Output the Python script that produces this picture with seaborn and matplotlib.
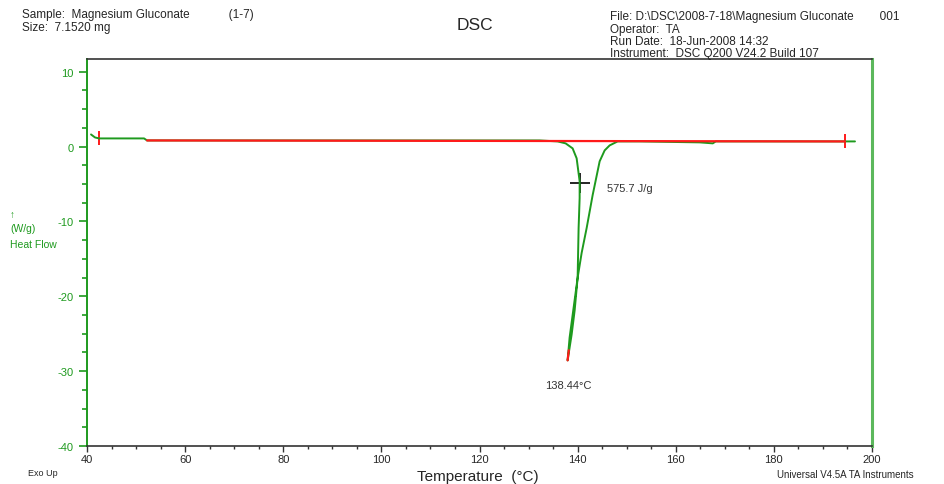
import matplotlib
matplotlib.use("Agg")
import matplotlib.pyplot as plt
from matplotlib.ticker import MultipleLocator
import seaborn as sns
import pandas as pd

# ---- data ----
temp_c = [40.82, 41.63, 42.45, 51.63, 52.24, 83.27, 113.88, 132.24, 135.92, 137.55,
          138.98, 139.80, 140.41, 140.41, 140.20, 140.00, 139.39, 138.78, 137.96,
          138.37, 140.00, 140.82, 141.84, 143.06, 144.49, 145.51, 146.53, 148.16,
          152.65, 164.90, 167.55, 168.16, 185.31, 196.53]
heat_flow = [1.62, 1.22, 1.09, 1.09, 0.82, 0.82, 0.82, 0.82, 0.69, 0.43,
             -0.24, -1.57, -4.63, -6.89, -10.88, -17.53, -21.91, -25.11, -28.56,
             -25.50, -17.53, -14.20, -10.88, -6.49, -1.97, -0.51, 0.16, 0.69,
             0.69, 0.56, 0.43, 0.69, 0.69, 0.69]
baseline_t = [52.24, 194.5]
baseline_hf = [0.82, 0.69]
limit_marks_t = [42.45, 194.5]
limit_marks_hf = [1.09, 0.69]
peak_mark_t = [137.96, 138.2]
peak_mark_hf = [-28.56, -27.2]
cross_t = [140.4]
cross_hf = [-4.9]
x_ticks = [40, 60, 80, 100, 120, 140, 160, 180, 200]
y_ticks = [10, 0, -10, -20, -30, -40]
enthalpy_label = "575.7 J/g"
peak_label = "138.44°C"

sns.set_style("white")
plt.rcParams['font.family'] = ['Liberation Sans', 'DejaVu Sans']

GREEN = "#1e9a1e"
RED = "#ff1a1a"

fig = plt.figure(figsize=(9.45, 4.85), dpi=100)
ax = fig.add_axes([87/945, 1-447/485, 785/945, 387/485])

df = pd.DataFrame({"t": temp_c, "hf": heat_flow})
sns.lineplot(data=df, x="t", y="hf", sort=False, estimator=None, color=GREEN, lw=1.4, ax=ax)
sns.lineplot(x=baseline_t, y=baseline_hf, sort=False, estimator=None, color=RED, lw=1.6, ax=ax)
sns.lineplot(x=peak_mark_t, y=peak_mark_hf, sort=False, estimator=None, color=RED, lw=1.6, ax=ax)
sns.scatterplot(x=limit_marks_t, y=limit_marks_hf, marker="|", s=90, color=RED, linewidth=1.4, ax=ax)
sns.scatterplot(x=cross_t, y=cross_hf, marker="+", s=200, color="black", linewidth=1.2, ax=ax)

ax.set_xlim(40, 200)
ax.set_ylim(-39.7, 11.7)
ax.set_xticks(x_ticks)
ax.set_yticks(y_ticks)
ax.set_xticklabels([str(v) for v in x_ticks], fontsize=8)
ax.set_yticklabels([str(v) for v in y_ticks], fontsize=8, color=GREEN)
ax.xaxis.set_minor_locator(MultipleLocator(5))
ax.yaxis.set_minor_locator(MultipleLocator(2.5))
ax.tick_params(axis="x", which="major", direction="out", length=4, width=1, color="#333333", pad=2, bottom=True)
ax.tick_params(axis="x", which="minor", direction="out", length=2.5, width=1, color="#333333", bottom=True)
ax.tick_params(axis="y", which="major", direction="out", length=6, width=1.2, color=GREEN, left=True)
ax.tick_params(axis="y", which="minor", direction="out", length=3.5, width=1.2, color=GREEN, left=True)
ax.set_xlabel("")
ax.set_ylabel("")
for s in ["top", "bottom"]:
    ax.spines[s].set_color("#333333")
    ax.spines[s].set_linewidth(1.2)
ax.spines["left"].set_color(GREEN)
ax.spines["left"].set_linewidth(1.4)
ax.spines["right"].set_color("#5cb85c")
ax.spines["right"].set_linewidth(2.2)

ax.text(145.9, -5.6, enthalpy_label, fontsize=8, color="#333333", ha="left", va="center")
ax.text(138.2, -31.8, peak_label, fontsize=8, color="#333333", ha="center", va="center")

# header texts
fs = 8.5
fig.text(22/945, 1-15/485, "Sample:  Magnesium Gluconate            (1-7)", fontsize=fs, va="center")
fig.text(22/945, 1-28/485, "Size:  7.1520 mg", fontsize=fs, va="center")
fig.text(475/945, 1-25/485, "DSC", fontsize=12.5, ha="center", va="center")
fig.text(610/945, 1-17/485, "File: D:\\DSC\\2008-7-18\\Magnesium Gluconate        001", fontsize=fs, va="center")
fig.text(610/945, 1-30/485, "Operator:  TA", fontsize=fs, va="center")
fig.text(610/945, 1-42/485, "Run Date:  18-Jun-2008 14:32", fontsize=fs, va="center")
fig.text(610/945, 1-54/485, "Instrument:  DSC Q200 V24.2 Build 107", fontsize=fs, va="center")

# y label (heat flow) in green, horizontal as in reference
fig.text(10/945, 1-215/485, "↑", fontsize=7, color=GREEN, va="center")
fig.text(10/945, 1-229/485, "(W/g)", fontsize=7.5, color=GREEN, va="center")
fig.text(10/945, 1-245/485, "Heat Flow", fontsize=7.5, color=GREEN, va="center")

# footer
fig.text(28/945, 1-474/485, "Exo Up", fontsize=6.5, va="center")
fig.text(478/945, 1-477/485, "Temperature  (°C)", fontsize=11, ha="center", va="center")
fig.text(777/945, 1-475/485, "Universal V4.5A TA Instruments", fontsize=7, va="center")

fig.savefig("out.png", dpi=100)
